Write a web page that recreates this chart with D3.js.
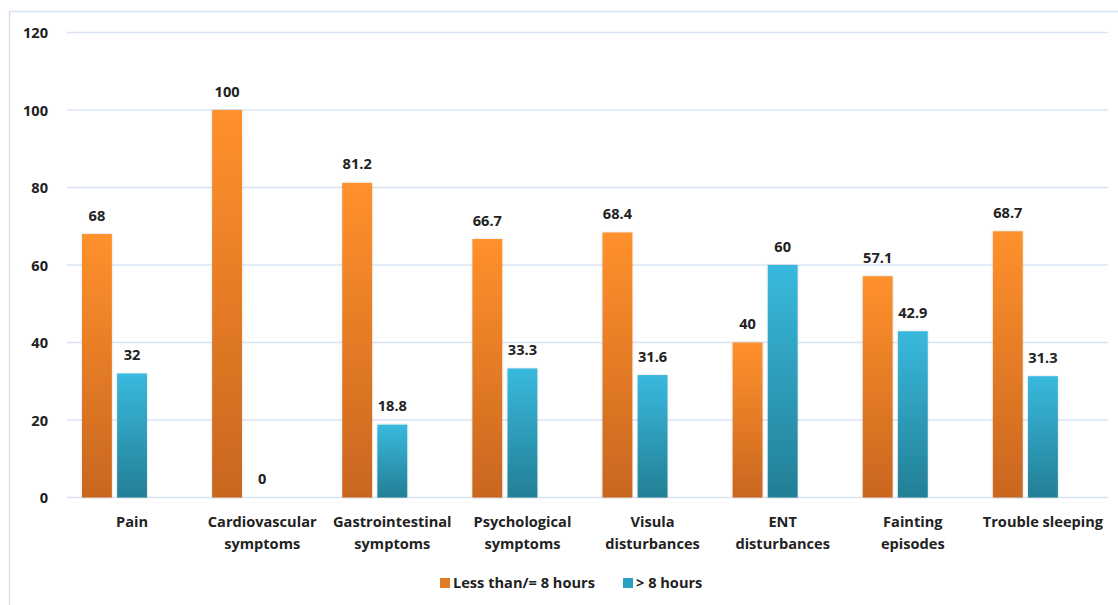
<!DOCTYPE html>
<html>
<head>
<meta charset="utf-8">
<script src="https://cdn.jsdelivr.net/npm/d3@7"></script>
<style>
  html, body { margin: 0; padding: 0; background: #fff; }
  svg { display: block; font-family: "Open Sans", Lato, sans-serif; font-weight: 700; }
</style>
</head>
<body>
<svg id="chart" width="1118" height="605"></svg>
<script>
// Symptom categories (two-line labels split on "\n")
const categories = [
  "Pain",
  "Cardiovascular\nsymptoms",
  "Gastrointestinal\nsymptoms",
  "Psychological\nsymptoms",
  "Visula\ndisturbances",
  "ENT\ndisturbances",
  "Fainting\nepisodes",
  "Trouble sleeping"
];

// Percentages by working hours
const lessOrEq8 = [68, 100, 81.2, 66.7, 68.4, 40, 57.1, 68.7];
const moreThan8 = [32, 0, 18.8, 33.3, 31.6, 60, 42.9, 31.3];

const seriesNames = ["Less than/= 8 hours", "> 8 hours"];
const yTicks = [0, 20, 40, 60, 80, 100, 120];

const FONT = 14.6;
const svg = d3.select("#chart");
const plot = { left: 67, right: 1108, top: 32.5, bottom: 497.5 };

// Outer frame: top and left edges
svg.append("path")
  .attr("d", `M9.5,605 V11.5 H1118`)
  .attr("fill", "none")
  .attr("stroke", "#d6e2f0")
  .attr("stroke-width", 1.5);

const defs = svg.append("defs");
function grad(id, top, bottom) {
  const g = defs.append("linearGradient")
    .attr("id", id).attr("x1", 0).attr("y1", 0).attr("x2", 0).attr("y2", 1);
  g.append("stop").attr("offset", "0%").attr("stop-color", top);
  g.append("stop").attr("offset", "100%").attr("stop-color", bottom);
}
grad("gOrange", "#ff912d", "#c9661f");
grad("gBlue", "#39b9de", "#237f95");

const shadow = defs.append("filter").attr("id", "soft")
  .attr("x", "-20%").attr("y", "-5%").attr("width", "140%").attr("height", "110%");
shadow.append("feDropShadow")
  .attr("dx", 0).attr("dy", 0).attr("stdDeviation", 1.2)
  .attr("flood-color", "#000").attr("flood-opacity", 0.18);

const x0 = d3.scaleBand().domain(d3.range(categories.length))
  .range([plot.left, plot.right]).padding(0);
// Three slots per category; the third one stays empty
const x1 = d3.scaleBand().domain([0, 1, 2])
  .range([15, x0.bandwidth() - 15]).paddingInner(0.15).paddingOuter(0);
const y = d3.scaleLinear().domain([0, 120]).range([plot.bottom, plot.top]);

// Gridlines
svg.append("g").selectAll("line").data(yTicks).join("line")
  .attr("x1", plot.left).attr("x2", plot.right)
  .attr("y1", d => y(d)).attr("y2", d => y(d))
  .attr("stroke", "#d9e4f3").attr("stroke-width", 1.5);

// Y axis labels
const yAxis = d3.axisLeft(y).tickValues(yTicks).tickSize(0).tickPadding(0);
const ya = svg.append("g").attr("transform", `translate(48,0)`).call(yAxis);
ya.select(".domain").remove();
ya.selectAll("text")
  .attr("font-family", "'Open Sans', sans-serif").attr("font-weight", 700)
  .attr("font-size", FONT).attr("fill", "#222").attr("dy", "0.35em");

const series = [
  { values: lessOrEq8, fill: "url(#gOrange)" },
  { values: moreThan8, fill: "url(#gBlue)" }
];

series.forEach((s, si) => {
  const g = svg.append("g");
  g.selectAll("rect").data(s.values).join("rect")
    .attr("x", (d, i) => x0(i) + x1(si))
    .attr("width", x1.bandwidth())
    .attr("y", d => y(d))
    .attr("height", d => y(0) - y(d))
    .attr("fill", s.fill)
    .attr("filter", "url(#soft)");
  g.selectAll("text").data(s.values).join("text")
    .attr("x", (d, i) => x0(i) + x1(si) + x1.bandwidth() / 2)
    .attr("y", d => y(d) - 13.5)
    .attr("text-anchor", "middle")
    .attr("font-size", FONT)
    .attr("fill", "#222")
    .text(d => d);
});

// Category labels
const cat = svg.append("g");
categories.forEach((c, i) => {
  const cx = x0(i) + x0.bandwidth() / 2;
  const t = cat.append("text")
    .attr("x", cx)
    .attr("y", 527)
    .attr("text-anchor", "middle")
    .attr("font-size", FONT)
    .attr("fill", "#222");
  c.split("\n").forEach((line, li) => {
    t.append("tspan")
      .attr("x", cx)
      .attr("dy", li === 0 ? 0 : 22)
      .text(line);
  });
});

// Legend
const legend = svg.append("g").attr("transform", "translate(440,583)");
const legendFills = ["#e07c24", "#2d9fbf"];
let lx = 0;
seriesNames.forEach((name, i) => {
  const item = legend.append("g").attr("transform", `translate(${lx},0)`);
  item.append("rect").attr("x", 0).attr("y", -5).attr("width", 10).attr("height", 10)
    .attr("fill", legendFills[i]);
  item.append("text").attr("x", 13).attr("y", 0).attr("dy", "0.35em")
    .attr("font-size", FONT).attr("fill", "#222").text(name);
  lx += 183;
});
</script>
</body>
</html>
